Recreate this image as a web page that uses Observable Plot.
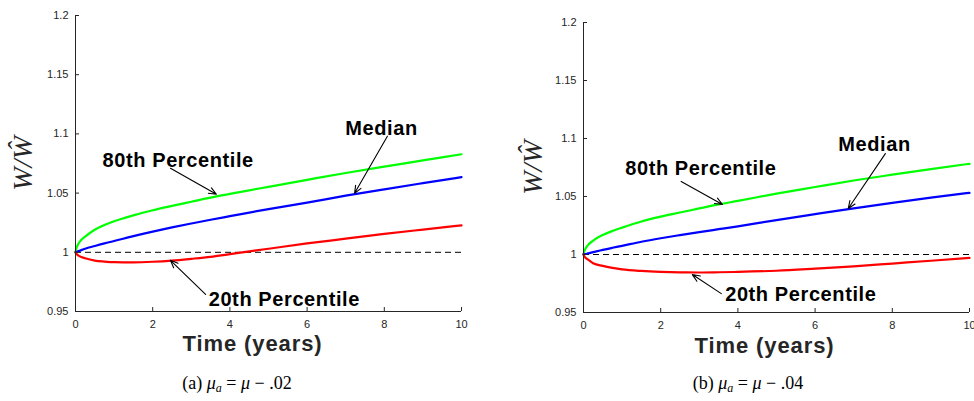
<!DOCTYPE html>
<html>
<head>
<meta charset="utf-8">
<script src="https://cdn.jsdelivr.net/npm/d3@7"></script>
<script src="https://cdn.jsdelivr.net/npm/@observablehq/plot@0.6"></script>
<style>
  html, body { margin: 0; padding: 0; background: #fff; width: 974px; height: 401px; overflow: hidden; }
  .panel { position: absolute; top: 0; }
  .caption { position: absolute; font-family: "Liberation Serif", "DejaVu Serif", serif; font-size: 18px; line-height: 22px; color: #000; white-space: nowrap; transform: translateX(-50%); }
  .caption sub { font-size: 12px; vertical-align: -3px; line-height: 0; }
</style>
</head>
<body>
<div id="pa" class="panel" style="left:0px"></div>
<div id="pb" class="panel" style="left:487px"></div>
<div class="caption" style="left:237px; top:372px">(a) <i>μ</i><sub><i>a</i></sub> = <i>μ</i> − .02</div>
<div class="caption" style="left:748px; top:372px">(b) <i>μ</i><sub><i>a</i></sub> = <i>μ</i> − .04</div>
<script>
// ---- data ----
const t = [0, 0.02, 0.05, 0.1, 0.25, 0.5, 0.75, 1, 1.5, 2, 2.5, 3, 3.5, 4, 5, 6, 7, 8, 9, 10];

const p80A = [1.0, 1.003, 1.0055, 1.0085, 1.0132, 1.019, 1.023, 1.0262, 1.0312, 1.0355, 1.0392, 1.0427, 1.0462, 1.0493, 1.0553, 1.0612, 1.067, 1.0724, 1.0776, 1.0828];
const medA = [1.0, 1.0002, 1.0006, 1.0012, 1.003, 1.0053, 1.0075, 1.0095, 1.0137, 1.0175, 1.021, 1.0243, 1.0275, 1.0305, 1.0365, 1.042, 1.0478, 1.0532, 1.0584, 1.0635];
const p20A = [1.0, 0.9988, 0.9978, 0.9968, 0.995, 0.993, 0.9922, 0.9917, 0.9915, 0.992, 0.993, 0.9945, 0.9962, 0.9985, 1.003, 1.0075, 1.0115, 1.0155, 1.0192, 1.0228];

const p80B = [1.0, 1.0028, 1.005, 1.0075, 1.012, 1.0168, 1.0203, 1.0232, 1.0285, 1.0327, 1.0362, 1.0397, 1.0432, 1.0462, 1.0525, 1.0582, 1.0638, 1.0688, 1.0736, 1.0782];
const medB = [1.0, 1.0002, 1.0004, 1.0008, 1.002, 1.004, 1.0058, 1.0075, 1.011, 1.014, 1.0167, 1.0193, 1.0218, 1.0243, 1.0297, 1.0348, 1.0398, 1.0445, 1.049, 1.0532];
const p20B = [1.0, 0.9985, 0.9972, 0.996, 0.9925, 0.9902, 0.9885, 0.9872, 0.9858, 0.985, 0.9846, 0.9845, 0.9847, 0.985, 0.986, 0.9878, 0.9898, 0.9922, 0.9946, 0.9971];

const xTicks = [0, 2, 4, 6, 8, 10];
const yTicks = [0.95, 1, 1.05, 1.1, 1.15, 1.2];
const refLevel = [1];

const seriesNames = ["80th Percentile", "Median", "20th Percentile"];
const seriesColors = ["#00ff00", "#0000ff", "#ff0000"];
const xLabel = "Time (years)";
const yLabel = "W/Ŵ";

// annotation label anchors (data coords) and arrow tails/heads
const labelXA = [0.70, 6.99, 3.45], labelYA = [1.0772, 1.1042, 0.9598];
const tailXA = [2.46, 8.08, 3.37], tailYA = [1.071, 1.098, 0.9645];
const headXA = [3.65, 7.23, 2.46], headYA = [1.049, 1.0498, 0.9932];

const labelXB = [1.08, 6.60, 3.67], labelYB = [1.0737, 1.0944, 0.9658];
const tailXB = [2.53, 7.82, 3.57], tailYB = [1.063, 1.087, 0.9663];
const headXB = [3.60, 6.86, 2.82], headYB = [1.0431, 1.0397, 0.9827];

const axisColor = "#262626";

function makePanel(series, labX, labY, tX, tY, hX, hY, m) {
  const width = 487, height = 360;
  const rows = [];
  series.forEach((vals, si) => vals.forEach((v, i) => rows.push({t: t[i], v, s: seriesNames[si]})));
  const ann = seriesNames.map((name, i) => ({name, lx: labX[i], ly: labY[i], x1: tX[i], y1: tY[i], x2: hX[i], y2: hY[i]}));
  const innerW = width - m.left - m.right;
  const innerH = height - m.top - m.bottom;
  const svg = Plot.plot({
    width, height,
    marginLeft: m.left, marginRight: m.right, marginTop: m.top, marginBottom: m.bottom,
    x: {domain: [0, 10]},
    y: {domain: [0.95, 1.2]},
    color: {domain: seriesNames, range: seriesColors},
    style: {background: "transparent", fontFamily: "'Liberation Sans', Arial, sans-serif", overflow: "visible"},
    marks: [
      Plot.ruleY(refLevel, {stroke: "#000", strokeWidth: 1, strokeDasharray: "6,4"}),
      Plot.line(rows, {x: "t", y: "v", z: "s", stroke: "s", strokeWidth: 2.2, curve: "monotone-x"}),
      // axes
      Plot.axisX({ticks: xTicks, tickSize: 0, tickPadding: 9, label: null, fontSize: 11, color: axisColor, tickFormat: d => String(d)}),
      Plot.axisY({ticks: yTicks, tickSize: 0, tickPadding: 7, label: null, fontSize: 11, color: axisColor, tickFormat: d => String(+d.toFixed(2))}),
      Plot.tickX(xTicks, {x: d => d, stroke: axisColor, insetTop: innerH - 4}),
      Plot.tickY(yTicks, {y: d => d, stroke: axisColor, insetRight: innerW - 4}),
      Plot.ruleX([0], {stroke: axisColor, strokeWidth: 1}),
      Plot.ruleY([0.95], {stroke: axisColor, strokeWidth: 1}),
      // axis labels
      Plot.text([xLabel], {frameAnchor: "bottom", dx: m.xlabDx, dy: m.xlabDy, fontSize: 22, fontWeight: "bold", fill: axisColor}),
      Plot.text([yLabel], {frameAnchor: "left", textAnchor: "middle", dx: m.ylabDx, rotate: -90, fontSize: 28, fontStyle: "italic", fontFamily: "'Liberation Serif', 'DejaVu Serif', serif", fill: axisColor}),
      // annotations
      Plot.arrow(ann, {x1: "x1", y1: "y1", x2: "x2", y2: "y2", stroke: "#000", strokeWidth: 1.1, headLength: 11, headAngle: 45}),
      Plot.text(ann, {x: "lx", y: "ly", text: "name", textAnchor: "start", fontSize: 20, fontWeight: "bold", fill: "#000"})
    ]
  });
  // letter spacing to match the reference's wider bold lettering
  svg.querySelectorAll("text").forEach(el => {
    const s = el.textContent;
    if (seriesNames.includes(s)) el.setAttribute("letter-spacing", "0.6");
    else if (s === xLabel) el.setAttribute("letter-spacing", "0.9");
  });
  return svg;
}

document.getElementById("pa").appendChild(
  makePanel([p80A, medA, p20A], labelXA, labelYA, tailXA, tailYA, headXA, headYA,
    {left: 75, right: 26, top: 15, bottom: 49, xlabDx: -16, xlabDy: 39, ylabDx: -52}));
document.getElementById("pb").appendChild(
  makePanel([p80B, medB, p20B], labelXB, labelYB, tailXB, tailYB, headXB, headYB,
    {left: 96, right: 5, top: 22, bottom: 48, xlabDx: -12, xlabDy: 40, ylabDx: -50}));
</script>
</body>
</html>
